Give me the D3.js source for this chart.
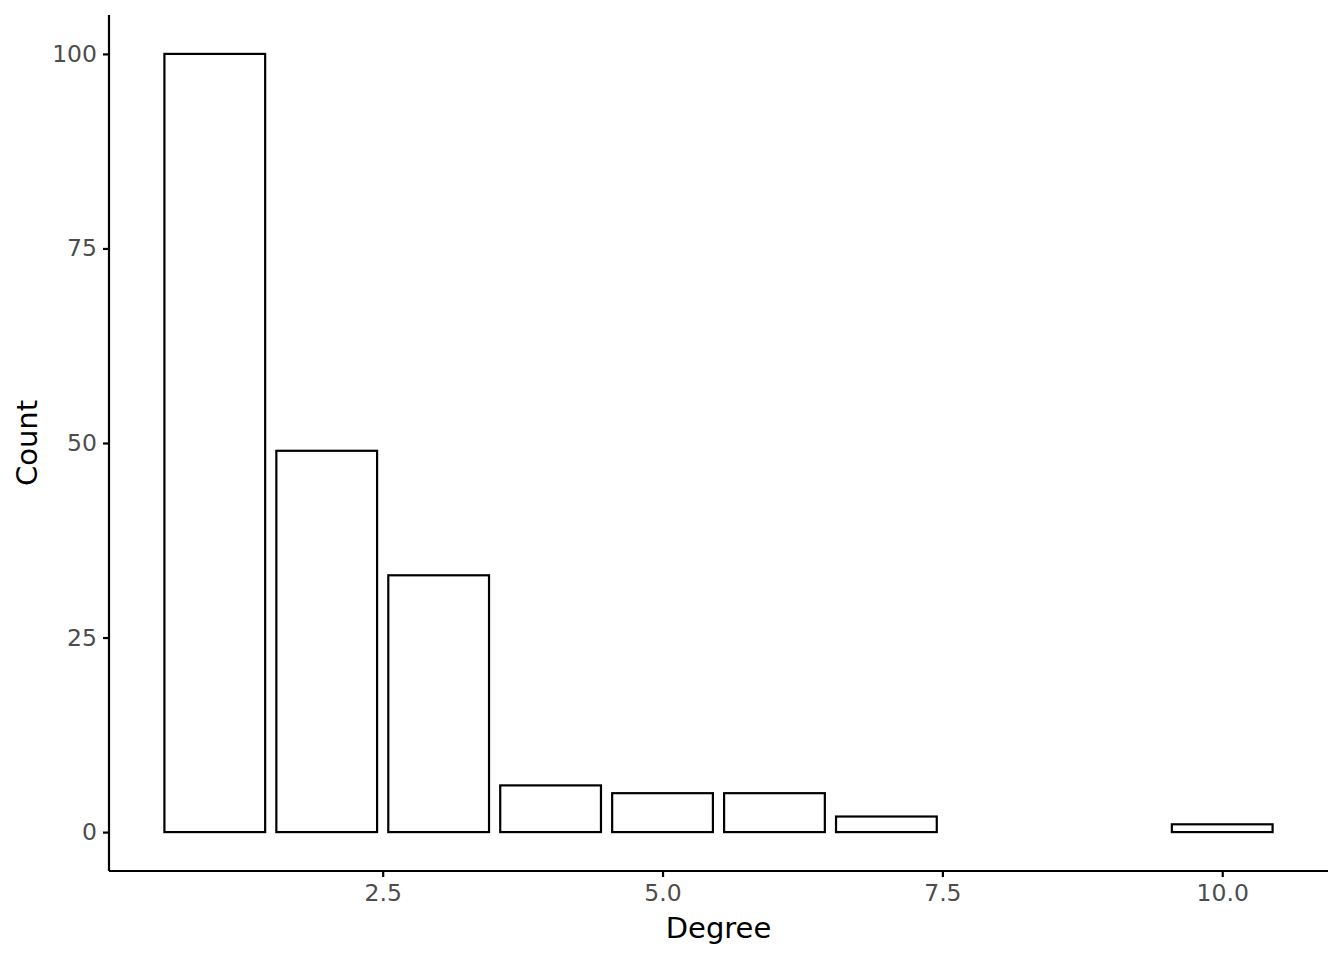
<!DOCTYPE html>
<html><head><meta charset="utf-8">
<script src="https://cdn.jsdelivr.net/npm/d3@7"></script>
<style>body{margin:0;background:#fff}</style>
</head><body>
<svg id="c" width="1344" height="960"></svg>
<script>
const degrees = [1, 2, 3, 4, 5, 6, 7, 10];
const counts = [100, 49, 33, 6, 5, 5, 2, 1];
const xTicks = [2.5, 5.0, 7.5, 10.0];
const yTicks = [0, 25, 50, 75, 100];

const svg = d3.select("#c");
const m = {l:109, r:1328, t:15, b:871};
const x = d3.scaleLinear().domain([0.055, 10.945]).range([m.l, m.r]);
const y = d3.scaleLinear().domain([-5, 105]).range([m.b, m.t]);
const font = "DejaVu Sans, sans-serif";

svg.append("g").selectAll("rect").data(degrees).join("rect")
  .attr("x", d => x(d - 0.45)).attr("width", d => x(d + 0.45) - x(d - 0.45))
  .attr("y", (d,i) => y(counts[i])).attr("height", (d,i) => y(0) - y(counts[i]))
  .attr("fill", "#fff").attr("stroke", "#000").attr("stroke-width", 2.2);

const xa = svg.append("g").attr("transform", `translate(0,${m.b})`)
  .call(d3.axisBottom(x).tickValues(xTicks).tickFormat(d3.format(".1f")).tickSize(6).tickPadding(7.5));
const ya = svg.append("g").attr("transform", `translate(${m.l},0)`)
  .call(d3.axisLeft(y).tickValues(yTicks).tickFormat(d3.format("d")).tickSize(6).tickPadding(6));
[xa, ya].forEach(a => {
  a.select(".domain").attr("stroke", "#000").attr("stroke-width", 2.2);
  a.selectAll(".tick line").attr("stroke", "#000").attr("stroke-width", 2.2);
  a.selectAll(".tick text").attr("fill", "#4D4D4D").attr("font-family", font).attr("font-size", 23.5);
});
xa.select(".domain").attr("d", `M${m.l},0H${m.r}`);
ya.select(".domain").attr("d", `M0,${m.b}V${m.t}`);

svg.append("text").attr("x", (m.l + m.r) / 2).attr("y", 938).attr("text-anchor", "middle")
  .attr("font-family", font).attr("font-size", 29).attr("fill", "#000").text("Degree");
svg.append("text").attr("transform", `translate(37,${(m.t + m.b) / 2}) rotate(-90)`).attr("text-anchor", "middle")
  .attr("font-family", font).attr("font-size", 29).attr("fill", "#000").text("Count");
</script>
</body></html>
